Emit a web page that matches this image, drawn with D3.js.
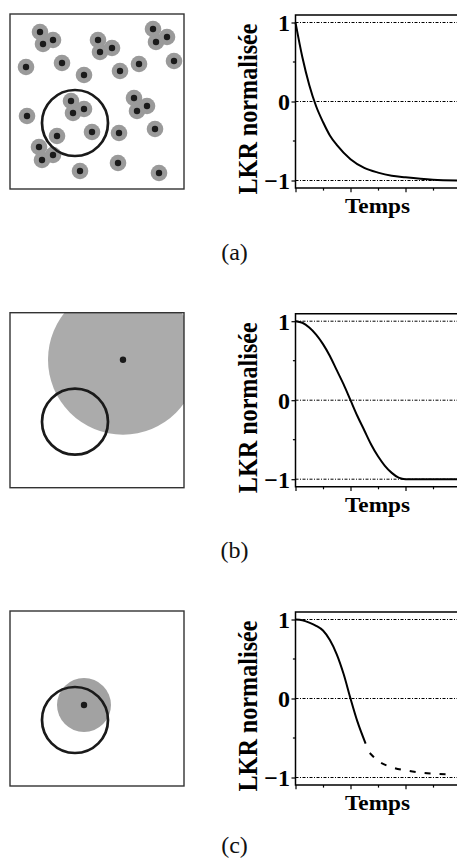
<!DOCTYPE html>
<html lang="fr">
<head>
<meta charset="utf-8">
<title>LKR normalisée</title>
<script src="https://cdn.jsdelivr.net/npm/d3@7/dist/d3.min.js"></script>
<style>
html, body { margin:0; padding:0; background:#fff; }
svg text { font-family:"Liberation Serif", "Times New Roman", Times, serif; }
.tick text { font-weight:bold; font-size:24px; fill:#000; }
.title { font-weight:bold; fill:#000; }
.panelLabel { font-size:24px; fill:#111; }
</style>
</head>
<body>
<div id="chart"></div>
<script>
// ---- données ----
var panelNames = ["(a)", "(b)", "(c)"];
var xTicks = [0, 1, 2, 3, 4, 5, 6];
var xMajor = [0, 2, 4, 6];
var yTicks = [-1, 0, 1];
var yMinor = [-0.5, 0.5];
var yLabel = "LKR normalisée";
var xLabel = "Temps";

// (a) décroissance exponentielle
var tA   = [0, 0.25, 0.5, 0.75, 1, 1.25, 1.5, 2, 2.5, 3, 3.5, 4, 5, 6];
var lkrA = [1, 0.56, 0.21, -0.06, -0.26, -0.43, -0.55, -0.73, -0.84, -0.90, -0.94, -0.96, -0.99, -1.0];
// (b) descente en cosinus puis plateau
var tB   = [0, 0.25, 0.5, 0.75, 1, 1.25, 1.5, 1.75, 2, 2.25, 2.5, 2.75, 3, 3.25, 3.5, 3.75, 4, 5, 6];
var lkrB = [1, 0.98, 0.92, 0.83, 0.71, 0.56, 0.38, 0.20, 0, -0.20, -0.38, -0.56, -0.71, -0.83, -0.92, -0.98, -1, -1, -1];
// (c) partie pleine puis partie en tirets
var tC   = [0, 0.25, 0.5, 0.75, 1, 1.25, 1.5, 1.75, 2, 2.25, 2.55];
var lkrC = [1, 0.99, 0.96, 0.92, 0.86, 0.74, 0.56, 0.31, 0, -0.29, -0.57];
var tCd   = [2.7, 3, 3.5, 4, 4.5, 5, 5.7];
var lkrCd = [-0.69, -0.79, -0.87, -0.91, -0.935, -0.95, -0.96];

// schémas (unités locales du carré, 0..174 x 0..175)
var dotX = [30, 33, 43, 88, 90, 102, 143, 146, 157, 16, 52, 74, 110, 129, 164, 124, 127, 137, 17, 61, 63, 74, 47, 82, 109, 145, 29, 32, 43, 70, 108, 149];
var dotY = [18, 30, 26, 26, 38, 34, 15, 28, 23, 53, 49, 61, 57, 50, 47, 84, 97, 92, 102, 87, 99, 95, 122, 118, 119, 115, 133, 146, 141, 157, 149, 159];
var detectX = [65, 65, 65], detectY = [109, 109, 109], detectR = [33, 33, 33];
var sourceX = [113, 74], sourceY = [47, 94], sourceR = [75, 27];

(function(){
	var W = 457, H = 864;
	var offsets = [0, 298.7, 597];
	var labelY = [260, 558, 853];
	var serif = "'Liberation Serif', 'Times New Roman', Times, serif";

	var svg = d3.select("#chart").append("svg")
		.attr("width", W).attr("height", H)
		.style("display", "block");

	var sqX = d3.scaleLinear().domain([0, 174]).range([10, 184]);
	var sqY = d3.scaleLinear().domain([0, 175]).range([14, 189]);
	var sqR = function(r){ return sqX(r) - sqX(0); };

	var x = d3.scaleLinear().domain([0, 6]).range([295.5, 460.5]);
	var y = d3.scaleLinear().domain([-1, 1]).range([180.5, 22.5]);
	var chartTop = 15, chartBottom = 188;

	var line = d3.line()
		.x(function(d){ return x(d[0]); })
		.y(function(d){ return y(d[1]); })
		.curve(d3.curveMonotoneX);

	var curves = [
		[{t:tA, v:lkrA, dash:null}],
		[{t:tB, v:lkrB, dash:null}],
		[{t:tC, v:lkrC, dash:null}, {t:tCd, v:lkrCd, dash:"6,9"}]
	];

	panelNames.forEach(function(name, i){
		var g = svg.append("g").attr("transform", "translate(0," + offsets[i] + ")");

		// ---- schéma ----
		var clipId = "clip" + i;
		g.append("clipPath").attr("id", clipId)
			.append("rect")
				.attr("x", sqX(0)).attr("y", sqY(0))
				.attr("width", sqX(174) - sqX(0)).attr("height", sqY(175) - sqY(0));
		var sq = g.append("g").attr("clip-path", "url(#" + clipId + ")");

		if (i === 0) {
			var pts = dotX.map(function(d, k){ return [d, dotY[k]]; });
			sq.selectAll("circle.halo").data(pts).enter().append("circle")
				.attr("class", "halo")
				.attr("cx", function(d){ return sqX(d[0]); })
				.attr("cy", function(d){ return sqY(d[1]); })
				.attr("r", 8.3).attr("fill", "#9a9a9a");
			sq.selectAll("circle.src").data(pts).enter().append("circle")
				.attr("class", "src")
				.attr("cx", function(d){ return sqX(d[0]); })
				.attr("cy", function(d){ return sqY(d[1]); })
				.attr("r", 3.2).attr("fill", "#1a1a1a");
		} else {
			var k = i - 1;
			sq.append("circle")
				.attr("cx", sqX(sourceX[k])).attr("cy", sqY(sourceY[k]))
				.attr("r", sqR(sourceR[k]))
				.attr("fill", i === 1 ? "#ababab" : "#a2a2a2");
			sq.append("circle")
				.attr("cx", sqX(sourceX[k])).attr("cy", sqY(sourceY[k]))
				.attr("r", 3.2).attr("fill", "#1a1a1a");
		}
		sq.append("circle")
			.attr("cx", sqX(detectX[i])).attr("cy", sqY(detectY[i]))
			.attr("r", sqR(detectR[i]))
			.attr("fill", "none").attr("stroke", "#1a1a1a").attr("stroke-width", 2.7);

		g.append("rect")
			.attr("x", sqX(0)).attr("y", sqY(0))
			.attr("width", sqX(174) - sqX(0)).attr("height", sqY(175) - sqY(0))
			.attr("fill", "none").attr("stroke", "#333").attr("stroke-width", 1.4);

		// ---- graphe ----
		var c = g.append("g");
		// lignes pointillées
		c.selectAll("line.grid").data(yTicks).enter().append("line")
			.attr("class", "grid")
			.attr("x1", x(0)).attr("x2", W)
			.attr("y1", function(d){ return y(d); }).attr("y2", function(d){ return y(d); })
			.attr("stroke", "#000").attr("stroke-width", 1)
			.attr("stroke-dasharray", "3,1.5,1,1.5");

		// cadre
		c.append("path")
			.attr("d", "M" + W + "," + chartTop + "H" + x(0) + "V" + chartBottom + "H" + W)
			.attr("fill", "none").attr("stroke", "#000").attr("stroke-width", 1.5);

		// axe x
		var xAxis = c.append("g").attr("transform", "translate(0," + chartBottom + ")");
		xAxis.call(d3.axisBottom(x).tickValues(xTicks).tickFormat("").tickSize(2.6).tickSizeOuter(0));
		xAxis.selectAll(".tick line")
			.attr("y2", function(d){ return xMajor.indexOf(d) >= 0 ? 4.3 : 2.6; })
			.attr("stroke-width", 1.2);
		xAxis.select(".domain").remove();

		// axe y
		var yAxis = c.append("g").attr("transform", "translate(" + x(0) + ",0)");
		yAxis.call(d3.axisLeft(y).tickValues(yTicks).tickFormat(d3.format("d")).tickSize(4).tickPadding(1.5));
		yAxis.attr("font-family", serif).attr("font-size", 24);
		yAxis.select(".domain").remove();
		yAxis.selectAll(".tick text").attr("dy", "0.33em").attr("font-family", serif).attr("font-weight", "bold");
		yAxis.selectAll(".tick line").attr("stroke-width", 1.2);
		c.selectAll("line.minor").data(yMinor).enter().append("line")
			.attr("class", "minor")
			.attr("x1", x(0) - 2.6).attr("x2", x(0))
			.attr("y1", function(d){ return y(d); }).attr("y2", function(d){ return y(d); })
			.attr("stroke", "#000").attr("stroke-width", 1.2);

		// courbes
		curves[i].forEach(function(s){
			var data = s.t.map(function(t, j){ return [t, s.v[j]]; });
			c.append("path")
				.attr("d", line(data))
				.attr("fill", "none").attr("stroke", "#000").attr("stroke-width", 2)
				.attr("stroke-dasharray", s.dash);
		});

		// titres
		c.append("text").attr("class", "title")
			.attr("transform", "translate(257," + (chartTop + 94) + ") rotate(-90)")
			.attr("text-anchor", "middle")
			.attr("font-family", serif).attr("font-weight", "bold")
			.attr("font-size", 27)
			.attr("textLength", 171).attr("lengthAdjust", "spacingAndGlyphs")
			.text(yLabel);
		c.append("text").attr("class", "title")
			.attr("x", 377.5).attr("y", chartBottom + 25)
			.attr("text-anchor", "middle")
			.attr("font-family", serif).attr("font-weight", "bold")
			.attr("font-size", 22)
			.attr("textLength", 65).attr("lengthAdjust", "spacingAndGlyphs")
			.text(xLabel);

		svg.append("text").attr("class", "panelLabel")
			.attr("x", 234.5).attr("y", labelY[i])
			.attr("text-anchor", "middle")
			.attr("font-family", serif)
			.text(name);
	});
})();
</script>
</body>
</html>
